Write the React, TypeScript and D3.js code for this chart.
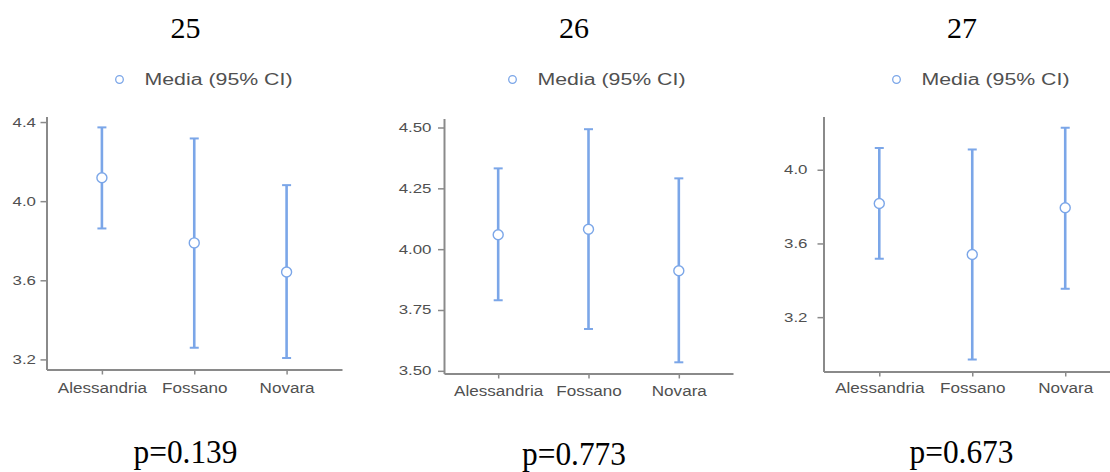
import React, { useEffect, useRef } from "react";
import * as d3 from "d3";

// Groups compared in every panel
const CATEGORIES = ["Alessandria", "Fossano", "Novara"];

// Item numbers shown above each panel, and the test p-values below
const ITEM_TITLES = ["25", "26", "27"];
const P_VALUES = ["p=0.139", "p=0.773", "p=0.673"];
const LEGEND_LABEL = "Media (95% CI)";

// Item 25: means and 95% confidence bounds
const MEAN_25 = [4.118, 3.789, 3.642];
const LOWER_25 = [3.862, 3.259, 3.207];
const UPPER_25 = [4.373, 4.317, 4.081];

// Item 26
const MEAN_26 = [4.059, 4.082, 3.911];
const LOWER_26 = [3.79, 3.672, 3.535];
const UPPER_26 = [4.332, 4.493, 4.291];

// Item 27
const MEAN_27 = [3.817, 3.54, 3.794];
const LOWER_27 = [3.517, 2.97, 3.354];
const UPPER_27 = [4.118, 4.11, 4.228];

// Y-axis tick values and visible value ranges
const Y_TICKS_25 = [3.2, 3.6, 4.0, 4.4];
const Y_TICKS_26 = [3.5, 3.75, 4.0, 4.25, 4.5];
const Y_TICKS_27 = [3.2, 3.6, 4.0];
const Y_DOMAIN_25 = [3.149, 4.428];
const Y_DOMAIN_26 = [3.489, 4.537];
const Y_DOMAIN_27 = [2.905, 4.289];

const BLUE = "#7ba6e8";
const AXIS_GREY = "#8a8a8a";
const LABEL_GREY = "#505050";
const SANS = "'Liberation Sans', Arial, sans-serif";
const SERIF = "'Liberation Serif', 'Times New Roman', serif";

interface PanelSpec {
  mean: number[];
  lower: number[];
  upper: number[];
  ticks: number[];
  domain: number[];
  format: string;
  left: number;
  right: number;
  top: number;
  bottom: number;
  yPad: number;
  xPad: number;
  legendX: number;
  titleX: number;
  pX: number;
  pY: number;
}

const PANELS: PanelSpec[] = [
  {
    mean: MEAN_25, lower: LOWER_25, upper: UPPER_25,
    ticks: Y_TICKS_25, domain: Y_DOMAIN_25, format: ".1f",
    left: 46.5, right: 342, top: 116.5, bottom: 369.5,
    yPad: 4.5, xPad: 8.5, legendX: 119.5, titleX: 185.5, pX: 185.5, pY: 463,
  },
  {
    mean: MEAN_26, lower: LOWER_26, upper: UPPER_26,
    ticks: Y_TICKS_26, domain: Y_DOMAIN_26, format: ".2f",
    left: 444, right: 733, top: 118.5, bottom: 373.5,
    yPad: 6.5, xPad: 7.8, legendX: 512.5, titleX: 574, pX: 574, pY: 464.5,
  },
  {
    mean: MEAN_27, lower: LOWER_27, upper: UPPER_27,
    ticks: Y_TICKS_27, domain: Y_DOMAIN_27, format: ".1f",
    left: 823.5, right: 1121, top: 116.5, bottom: 371.5,
    yPad: 10, xPad: 6.7, legendX: 896.5, titleX: 962, pX: 961.5, pY: 463,
  },
];

// Widen a text node horizontally by a factor, keeping its anchor
function stretch(sel: d3.Selection<any, any, any, any>, factor: number) {
  sel.each(function (this: SVGTextElement) {
    const w = this.getComputedTextLength();
    d3.select(this)
      .attr("textLength", w * factor)
      .attr("lengthAdjust", "spacingAndGlyphs");
  });
}

export default function App() {
  const ref = useRef<SVGSVGElement | null>(null);

  useEffect(() => {
    const svg = d3.select(ref.current);
    svg.selectAll("*").remove();

    PANELS.forEach((p, i) => {
      const g = svg.append("g");

      const y = d3.scaleLinear().domain(p.domain).range([p.bottom, p.top]);
      const x = d3
        .scalePoint<string>()
        .domain(CATEGORIES)
        .range([p.left, p.right])
        .padding(0.6);

      // Title and p-value
      g.append("text")
        .attr("x", p.titleX)
        .attr("y", 38)
        .attr("text-anchor", "middle")
        .style("font-family", SERIF)
        .style("font-size", "30px")
        .attr("fill", "#000")
        .text(ITEM_TITLES[i]);

      g.append("text")
        .attr("x", p.pX)
        .attr("y", p.pY)
        .attr("text-anchor", "middle")
        .attr("textLength", 104)
        .attr("lengthAdjust", "spacingAndGlyphs")
        .style("font-family", SERIF)
        .style("font-size", "34px")
        .attr("fill", "#000")
        .text(P_VALUES[i]);

      // Legend
      g.append("circle")
        .attr("cx", p.legendX)
        .attr("cy", 79.5)
        .attr("r", 3.8)
        .attr("fill", "#fff")
        .attr("stroke", BLUE)
        .attr("stroke-width", 1.3);
      g.append("text")
        .attr("x", p.legendX + 25)
        .attr("y", 85)
        .attr("textLength", 148)
        .attr("lengthAdjust", "spacingAndGlyphs")
        .style("font-family", SANS)
        .style("font-size", "16px")
        .attr("fill", LABEL_GREY)
        .text(LEGEND_LABEL);

      // Y axis
      const yAxis = g
        .append("g")
        .attr("transform", `translate(${p.left},0)`)
        .call(
          d3
            .axisLeft(y)
            .tickValues(p.ticks)
            .tickFormat(d3.format(p.format) as any)
            .tickSize(6)
            .tickSizeOuter(0)
            .tickPadding(p.yPad)
        );
      yAxis.select(".domain").attr("stroke", AXIS_GREY).attr("stroke-width", 2);
      yAxis.selectAll(".tick line").attr("stroke", AXIS_GREY).attr("stroke-width", 1.5);
      const yText = yAxis
        .selectAll<SVGTextElement, unknown>(".tick text")
        .style("font-family", SANS)
        .style("font-size", "12.5px")
        .attr("fill", LABEL_GREY);
      stretch(yText, 1.35);

      // X axis
      const xAxis = g
        .append("g")
        .attr("transform", `translate(0,${p.bottom})`)
        .call(
          d3.axisBottom(x).tickSize(5).tickSizeOuter(0).tickPadding(p.xPad)
        );
      xAxis.select(".domain").attr("stroke", AXIS_GREY).attr("stroke-width", 2);
      xAxis.selectAll(".tick line").attr("stroke", AXIS_GREY).attr("stroke-width", 1.5);
      const xText = xAxis
        .selectAll<SVGTextElement, unknown>(".tick text")
        .style("font-family", SANS)
        .style("font-size", "14px")
        .attr("fill", LABEL_GREY);
      stretch(xText, 1.22);

      // Confidence intervals with caps and mean markers
      const marks = g
        .append("g")
        .selectAll("g")
        .data(CATEGORIES)
        .join("g");

      marks
        .append("line")
        .attr("x1", (c) => x(c)!)
        .attr("x2", (c) => x(c)!)
        .attr("y1", (_c, j) => y(p.lower[j]))
        .attr("y2", (_c, j) => y(p.upper[j]))
        .attr("stroke", BLUE)
        .attr("stroke-width", 2.6);

      (["lower", "upper"] as const).forEach((key) => {
        marks
          .append("line")
          .attr("x1", (c) => x(c)! - 4.5)
          .attr("x2", (c) => x(c)! + 4.5)
          .attr("y1", (_c, j) => y(p[key][j]))
          .attr("y2", (_c, j) => y(p[key][j]))
          .attr("stroke", BLUE)
          .attr("stroke-width", 2);
      });

      marks
        .append("circle")
        .attr("cx", (c) => x(c)!)
        .attr("cy", (_c, j) => y(p.mean[j]))
        .attr("r", 5)
        .attr("fill", "#fff")
        .attr("stroke", BLUE)
        .attr("stroke-width", 1.4);
    });
  }, []);

  return (
    <svg
      ref={ref}
      width={1110}
      height={472}
      style={{ position: "absolute", left: 0, top: 0, background: "#fff" }}
    />
  );
}
